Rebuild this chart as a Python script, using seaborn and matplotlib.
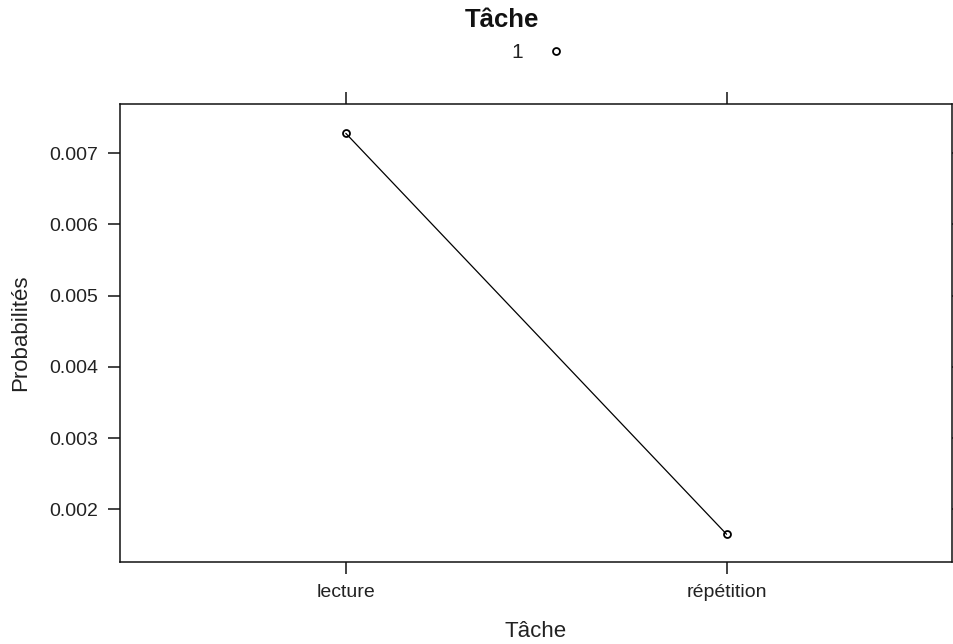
import matplotlib
matplotlib.use("Agg")
import matplotlib.pyplot as plt
from matplotlib.lines import Line2D
import seaborn as sns
import pandas as pd

# Data
taches = ["lecture", "répétition"]
probabilites = [0.00728, 0.00165]
groupe = ["1", "1"]

df = pd.DataFrame({"Tâche": taches, "Probabilités": probabilites, "groupe": groupe})

sns.set_theme(style="white")
plt.rcParams["font.family"] = ["Liberation Sans", "DejaVu Sans"]

W, H = 954, 644
fig = plt.figure(figsize=(W / 100, H / 100), dpi=100)
ax = fig.add_axes([120 / W, 1 - 562 / H, (952 - 120) / W, (562 - 104) / H])

sns.lineplot(data=df, x="Tâche", y="Probabilités", ax=ax, color="black",
             linewidth=0.9, marker="o", markersize=5, markerfacecolor="none",
             markeredgecolor="black", markeredgewidth=1.3, sort=False)

ax.set_xlim(-0.593, 1.592)
ax.set_ylim(0.00126, 0.007692)
ax.set_yticks([0.002, 0.003, 0.004, 0.005, 0.006, 0.007])
ax.set_yticklabels(["0.002", "0.003", "0.004", "0.005", "0.006", "0.007"])
ax.set_xticks([0, 1])
ax.set_xticklabels(taches)

txt = "#222222"
ax.tick_params(axis="x", which="both", direction="out", length=8.5, width=1.1,
               color="#111111", top=True, bottom=True, labeltop=False,
               labelsize=14, labelcolor=txt, pad=7)
ax.tick_params(axis="y", which="both", direction="out", length=8.5, width=1.1,
               color="#111111", left=True, right=True, labelright=False,
               labelsize=14, labelcolor=txt, pad=7)
for s in ax.spines.values():
    s.set_visible(True)
    s.set_color("#111111")
    s.set_linewidth(1.1)

ax.set_xlabel("Tâche", fontsize=16, color=txt, labelpad=15)
ax.set_ylabel("Probabilités", fontsize=16, color=txt, labelpad=13)

fig.text(502 / W, 1 - 20 / H, "Tâche", ha="center", va="center",
         fontsize=18.5, fontweight="bold", color="#111111")

handle = Line2D([], [], marker="o", linestyle="none", markersize=5,
                markerfacecolor="none", markeredgecolor="black", markeredgewidth=1.3)
leg = fig.legend([handle], ["1"], loc="center left",
                 bbox_to_anchor=(511 / W, 1 - 53 / H), frameon=False,
                 markerfirst=False, fontsize=15, handletextpad=0.6,
                 handlelength=2.0, borderaxespad=0, borderpad=0)
for t in leg.get_texts():
    t.set_color(txt)

fig.savefig("out.png", dpi=100)
